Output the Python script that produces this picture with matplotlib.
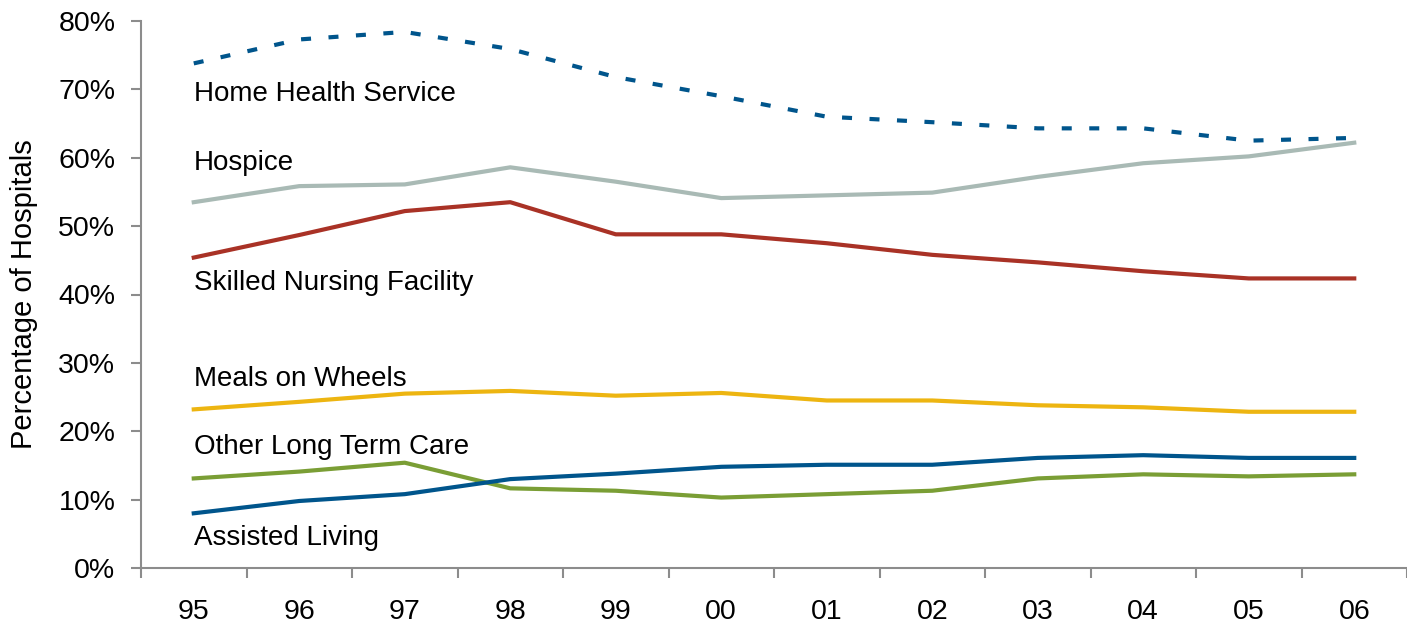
import numpy as np
import matplotlib
matplotlib.use('Agg')
import matplotlib.pyplot as plt
from matplotlib.ticker import FixedLocator

plt.rcParams['font.family'] = ['Liberation Sans', 'DejaVu Sans']

# dados
anos = ['95', '96', '97', '98', '99', '00', '01', '02', '03', '04', '05', '06']
home_health = [73.8, 77.3, 78.4, 75.9, 71.8, 69.0, 66.0, 65.2, 64.3, 64.3, 62.5, 62.9]
hospice = [53.5, 55.85, 56.1, 58.6, 56.5, 54.1, 54.5, 54.9, 57.2, 59.2, 60.2, 62.2]
skilled = [45.4, 48.7, 52.2, 53.5, 48.8, 48.8, 47.5, 45.8, 44.7, 43.4, 42.35, 42.35]
meals = [23.2, 24.3, 25.5, 25.9, 25.2, 25.6, 24.5, 24.5, 23.8, 23.5, 22.85, 22.85]
other_ltc = [13.1, 14.1, 15.4, 11.65, 11.3, 10.3, 10.8, 11.3, 13.1, 13.7, 13.4, 13.7]
assisted = [8.0, 9.8, 10.8, 13.0, 13.8, 14.8, 15.1, 15.1, 16.1, 16.5, 16.1, 16.1]

rotulos = ['Home Health Service', 'Hospice', 'Skilled Nursing Facility',
           'Meals on Wheels', 'Other Long Term Care', 'Assisted Living']
rotulos_y = [68.3, 58.2, 40.7, 26.6, 16.6, 3.4]  # linha de base de cada rótulo

x = np.arange(len(anos))

fig = plt.figure(figsize=(14.07, 6.26), dpi=100)
ax = fig.add_axes([141/1407, 1 - 568/626, 1 - 141/1407, (568 - 21)/626])

ax.plot(x, home_health, color='#00558C', lw=3, linestyle=(0, (2.4, 4.2)), dash_capstyle='butt')
ax.plot(x, hospice, color='#A9BAB5', lw=3)
ax.plot(x, skilled, color='#A93226', lw=3)
ax.plot(x, meals, color='#EDB511', lw=3)
ax.plot(x, other_ltc, color='#7A9E35', lw=3)
ax.plot(x, assisted, color='#00558C', lw=3)

for txt, yv in zip(rotulos, rotulos_y):
    ax.text(0.0, yv, txt, fontsize=20, color='black', ha='left', va='baseline')

ax.set_xlim(-0.5, len(anos) - 0.5)
ax.set_ylim(0, 80)
ax.set_yticks(np.arange(0, 81, 10))
ax.set_yticklabels([f'{v}%' for v in range(0, 81, 10)])
ax.set_xticks(x)
ax.set_xticklabels(anos)
ax.xaxis.set_minor_locator(FixedLocator(np.arange(-0.5, len(anos) - 0.4, 1)))

ax.tick_params(axis='x', which='major', length=0, pad=22, labelsize=20.5)
ax.tick_params(axis='x', which='minor', length=7.5, width=1.5, color='#8C8C8C', direction='out')
ax.tick_params(axis='y', which='major', length=7.5, width=1.5, color='#8C8C8C', pad=11, labelsize=20.5)

for lado in ['top', 'right']:
    ax.spines[lado].set_visible(False)
for lado in ['left', 'bottom']:
    ax.spines[lado].set_color('#8C8C8C')
    ax.spines[lado].set_linewidth(1.5)

ax.set_ylabel('Percentage of Hospitals', fontsize=21)
ax.yaxis.set_label_coords(-(141 - 38) / (1407 - 141), 0.5)

fig.savefig('out.png', dpi=100)
